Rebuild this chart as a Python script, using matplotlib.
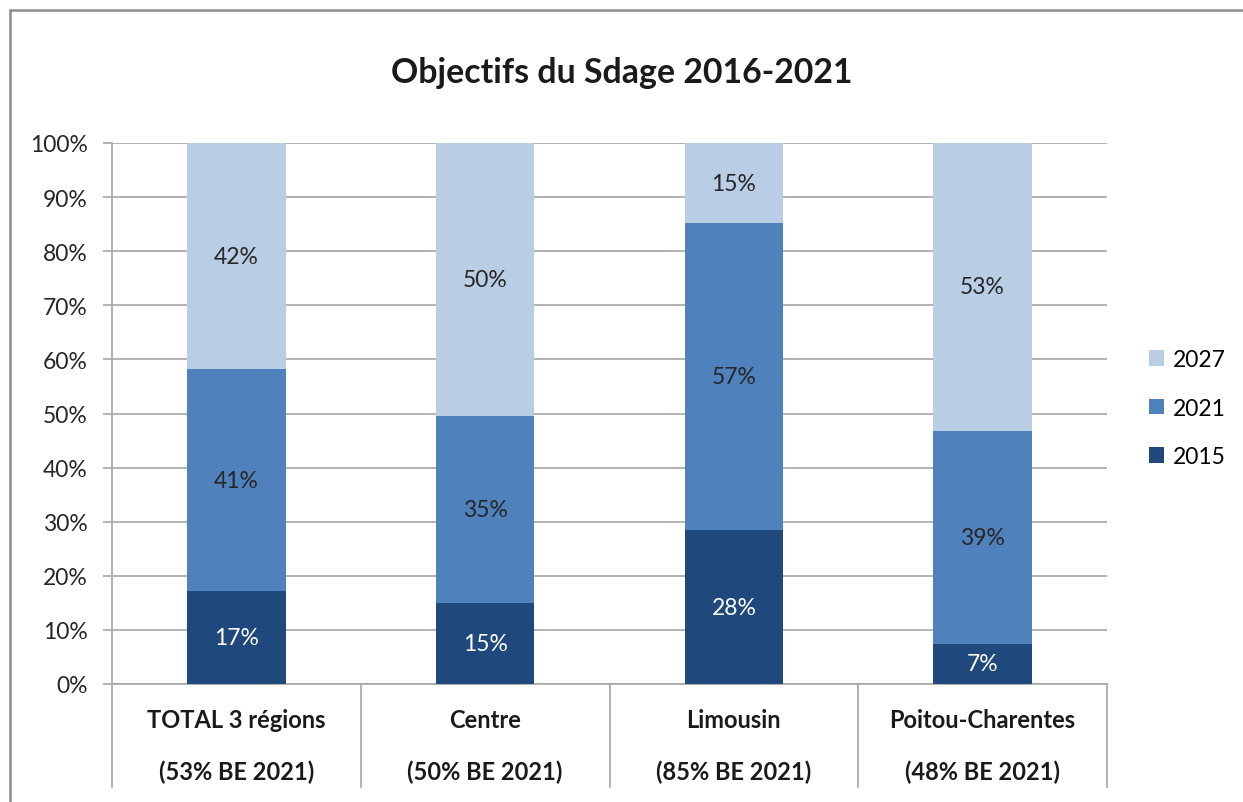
import matplotlib
matplotlib.use("Agg")
import matplotlib.pyplot as plt
from matplotlib.patches import Rectangle, Patch
import numpy as np

plt.rcParams['font.family'] = ['Lato', 'DejaVu Sans']

regions = ["TOTAL 3 régions", "Centre", "Limousin", "Poitou-Charentes"]
be_2021 = ["(53% BE 2021)", "(50% BE 2021)", "(85% BE 2021)", "(48% BE 2021)"]
years = ["2015", "2021", "2027"]
v2015 = [17.2, 15.0, 28.4, 7.4]
v2021 = [41.0, 34.6, 56.8, 39.4]
v2027 = [41.8, 50.4, 14.8, 53.2]
colors = ["#1F497D", "#4F81BD", "#B9CDE5"]
text_colors = ["white", "#262626", "#262626"]

fig = plt.figure(figsize=(12.43, 8.03), dpi=100)
ax = fig.add_axes([112/1243, 1 - 685/803, (1107-112)/1243, (685-144)/803])

x = np.arange(len(regions))
bottom = np.zeros(len(regions))
for vals, col, tc in zip([v2015, v2021, v2027], colors, text_colors):
    vals = np.array(vals)
    ax.bar(x, vals, 0.395, bottom=bottom, color=col, zorder=3)
    for xi, b, v in zip(x, bottom, vals):
        ax.text(xi, b + v / 2, f"{round(v)}%", ha='center', va='center',
                color=tc, fontsize=16.5, zorder=4)
    bottom += vals

ax.set_xlim(-0.5, len(regions) - 0.5)
ax.set_ylim(0, 100)
ax.set_yticks(range(0, 101, 10))
ax.set_yticklabels([f"{t}%" for t in range(0, 101, 10)], fontsize=16.5, color="#262626")
ax.set_xticks([])
ax.yaxis.grid(True, color="#a6a6a6", linewidth=1.2, zorder=0)
for s in ["top", "right"]:
    ax.spines[s].set_visible(False)
for s in ["left", "bottom"]:
    ax.spines[s].set_color("#a6a6a6")
    ax.spines[s].set_linewidth(1.2)
ax.tick_params(axis='y', length=6.5, color="#a6a6a6", width=1.2, pad=11)

# category separators and two-line labels
for sep in np.arange(-0.5, len(regions), 1.0):
    ax.plot([sep, sep], [0, -19.0], color="#a6a6a6", lw=1.2, clip_on=False)
for xi, r, b in zip(x, regions, be_2021):
    ax.text(xi, -6.5, r, ha='center', va='center', fontsize=17, fontweight='bold', color="#1a1a1a")
    ax.text(xi, -16.1, b, ha='center', va='center', fontsize=17, fontweight='bold', color="#1a1a1a")

handles = [Patch(facecolor=c) for c in colors][::-1]
fig.legend(handles, years[::-1], loc='center left', bbox_to_anchor=(1149/1243, 1 - 409/803),
           frameon=False, fontsize=16.5, handlelength=0.65, handleheight=0.65,
           handletextpad=0.4, labelspacing=1.2, borderpad=0, borderaxespad=0)

fig.text(622/1243, 1 - 73/803, "Objectifs du Sdage 2016-2021", ha='center', va='center',
         fontsize=24.4, fontweight='bold', color="#1a1a1a")

fig.patches.append(Rectangle((10/1243, -0.05), 1.1, 1.05 - 11/803, transform=fig.transFigure,
                             fill=False, edgecolor="#8c8c8c", linewidth=1.8))

fig.savefig("out.png", dpi=100)
